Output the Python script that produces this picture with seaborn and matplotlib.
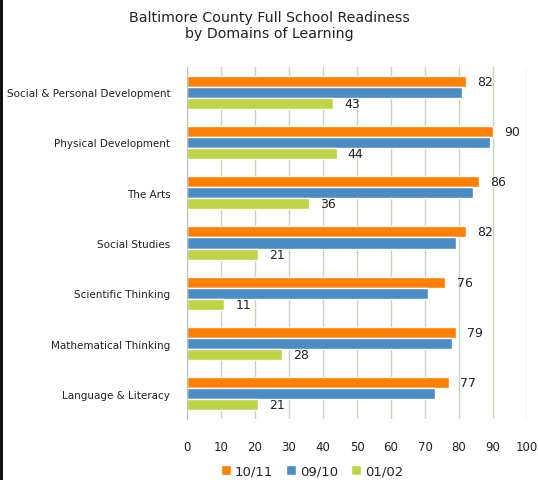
import pandas as pd
import matplotlib
matplotlib.use("Agg")
import matplotlib.pyplot as plt
from matplotlib.lines import Line2D
from matplotlib.patches import Patch
import seaborn as sns

# --- Datos ---
domains = [
    "Social & Personal Development",
    "Physical Development",
    "The Arts",
    "Social Studies",
    "Scientific Thinking",
    "Mathematical Thinking",
    "Language & Literacy",
]
years = ["10/11", "09/10", "01/02"]
vals_1011 = [82, 90, 86, 82, 76, 79, 77]
vals_0910 = [81, 89, 84, 79, 71, 78, 73]
vals_0102 = [43, 44, 36, 21, 11, 28, 21]
colors = ["#FF7F00", "#4A8CC3", "#BED446"]

rows = []
for year, vals in zip(years, [vals_1011, vals_0910, vals_0102]):
    for d, v in zip(domains, vals):
        rows.append({"Domain": d, "Year": year, "Value": v})
df = pd.DataFrame(rows)

sns.set_style("white")
plt.rcParams["font.family"] = ["DejaVu Sans"]

fig = plt.figure(figsize=(5.38, 4.81), dpi=100)
ax = fig.add_axes([0.3476, 0.1268, 0.632, 0.7318])

sns.barplot(data=df, y="Domain", x="Value", hue="Year", order=domains,
            hue_order=years, palette=colors, width=0.66, orient="h",
            saturation=1, ax=ax, legend=False)

# etiquetas de valor solo para 10/11 y 01/02
for i in [0, 2]:
    ax.bar_label(ax.containers[i], padding=8, fontsize=9, color="#222222")

ax.set_xlim(0, 100)
ax.set_xticks(range(0, 101, 10))
ax.set_xlabel("")
ax.set_ylabel("")
ax.set_ylim(6.5, -0.5)
ax.grid(axis="x", color="#C4D6B4", linewidth=1)
ax.set_axisbelow(True)
for s in ["top", "right", "bottom"]:
    ax.spines[s].set_visible(False)
ax.spines["left"].set_color("#C0C0C0")
ax.tick_params(axis="x", length=3, color="#C4D6B4", pad=12, labelsize=8.5, labelcolor="#222222")
ax.tick_params(axis="y", length=0, pad=12, labelsize=7.5, labelcolor="#222222")

fig.suptitle("Baltimore County Full School Readiness\nby Domains of Learning",
             fontsize=10.2, color="#222222", x=0.5, y=0.978, linespacing=1.25)

handles = [Patch(facecolor=c, label=y) for c, y in zip(colors, years)]
fig.legend(handles=handles, loc="center", bbox_to_anchor=(0.58, 0.019), ncol=3,
           frameon=False, fontsize=9.5, handlelength=0.75, handleheight=0.75,
           handletextpad=0.3, columnspacing=1.0)

# borde izquierdo negro
fig.add_artist(Line2D([0.002, 0.002], [0, 1], color="black", linewidth=2,
                      transform=fig.transFigure))

fig.savefig("out.png", dpi=100)
